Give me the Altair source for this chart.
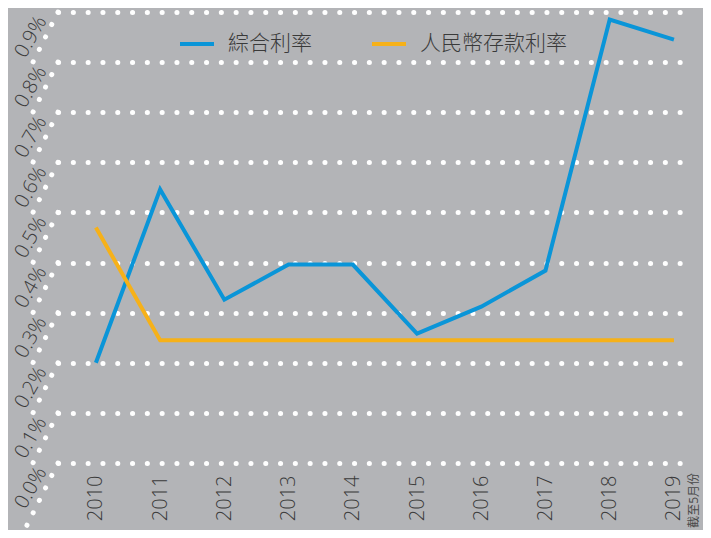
import altair as alt
import pandas as pd

years = [2010, 2011, 2012, 2013, 2014, 2015, 2016, 2017, 2018, 2019]
composite_rate = [0.20, 0.546, 0.326, 0.396, 0.396, 0.258, 0.312, 0.384, 0.885, 0.845]
rmb_deposit_rate = [0.47, 0.245, 0.245, 0.245, 0.245, 0.245, 0.245, 0.245, 0.245, 0.245]
series_names = ["綜合利率", "人民幣存款利率"]
series_colors = ["#0a95d8", "#f6b119"]
y_ticks = [0.0, 0.1, 0.2, 0.3, 0.4, 0.5, 0.6, 0.7, 0.8, 0.9]
y_tick_labels = ["0.0%", "0.1%", "0.2%", "0.3%", "0.4%", "0.5%", "0.6%", "0.7%", "0.8%", "0.9%"]
note_text = "截至5月份"

BG = "#b3b4b7"
TXT = "#3a3a3a"
FONT = "Open Sans, Noto Sans CJK TC"

rows = []
for name, vals in zip(series_names, [composite_rate, rmb_deposit_rate]):
    for yr, v in zip(years, vals):
        rows.append({"year": yr, "series": name, "value": v})
df = pd.DataFrame(rows)

x_scale = alt.Scale(domain=[2009.41, 2019.11], nice=False, zero=False)
y_scale = alt.Scale(domain=[0, 0.9], nice=False, zero=False)
y_axis = alt.Axis(values=y_ticks, labels=False, ticks=False, domain=False,
                  grid=True, gridColor="white", gridDash=[0.1, 14.7],
                  gridWidth=5, gridCap="round", gridOpacity=1, title=None)
x_axis = alt.Axis(values=years, format="d", labelAngle=-90, labelPadding=12,
                  labelFontSize=20, labelFontWeight=300, labelColor=TXT, labelFont=FONT,
                  ticks=False, domain=False, grid=False, title=None)

lines = alt.Chart(df).mark_line(strokeWidth=4, strokeCap="butt", strokeJoin="miter").encode(
    x=alt.X("year:Q", scale=x_scale, axis=x_axis),
    y=alt.Y("value:Q", scale=y_scale, axis=y_axis),
    color=alt.Color("series:N",
                    scale=alt.Scale(domain=series_names, range=series_colors),
                    legend=alt.Legend(title=None, orient="none", legendX=120, legendY=13,
                                      direction="horizontal", symbolType="stroke",
                                      symbolStrokeWidth=4, symbolSize=1156,
                                      labelFontSize=21, labelFontWeight=300,
                                      labelColor=TXT, labelFont=FONT,
                                      labelOffset=12, columnPadding=52, padding=0,
                                      labelLimit=400)),
)

seg_df = pd.DataFrame({"v": y_ticks[1:], "v2": [t - 0.1 for t in y_ticks[1:]]})
segs = alt.Chart(seg_df).mark_rule(color="white", strokeWidth=5, strokeCap="round",
                                     strokeDash=[0.1, 13.8]).encode(
    x=alt.value(0), x2=alt.value(-25),
    y=alt.Y("v:Q", scale=y_scale, axis=y_axis), y2="v2:Q")

bottom_df = pd.DataFrame({"v": [y_ticks[0]], "v2": [y_ticks[0] - 0.15]})
bottom_seg = alt.Chart(bottom_df).mark_rule(color="white", strokeWidth=5, strokeCap="round",
                                             strokeDash=[0.1, 13.8]).encode(
    x=alt.value(0), x2=alt.value(-37.5),
    y=alt.Y("v:Q", scale=y_scale, axis=y_axis), y2="v2:Q")

lab_df = pd.DataFrame({"v": y_ticks, "label": y_tick_labels})
ylabels = alt.Chart(lab_df).mark_text(angle=300, align="center", baseline="middle",
                                      fontSize=20, fontWeight=300, color=TXT, font=FONT,
                                      yOffset=25).encode(
    x=alt.value(-27), y=alt.Y("v:Q", scale=y_scale, axis=y_axis), text="label:N")

note = alt.Chart(pd.DataFrame({"t": [note_text]})).mark_text(
    angle=270, align="right", baseline="middle", fontSize=12, color="#4a4a4a",
    font=FONT, xOffset=20, yOffset=10).encode(
    x=alt.datum(years[-1], scale=x_scale, axis=x_axis),
    y=alt.datum(y_ticks[0], scale=y_scale, axis=y_axis), text="t:N")

chart = alt.layer(segs, bottom_seg, ylabels, lines, note).properties(
    width=623, height=451,
    background=BG,
    padding={"left": 50, "top": 4, "right": 22, "bottom": 67},
    autosize=alt.AutoSizeParams(type="none"),
).configure_view(stroke=None)

chart.save("out.html", embed_options={"renderer": "svg", "actions": False})
